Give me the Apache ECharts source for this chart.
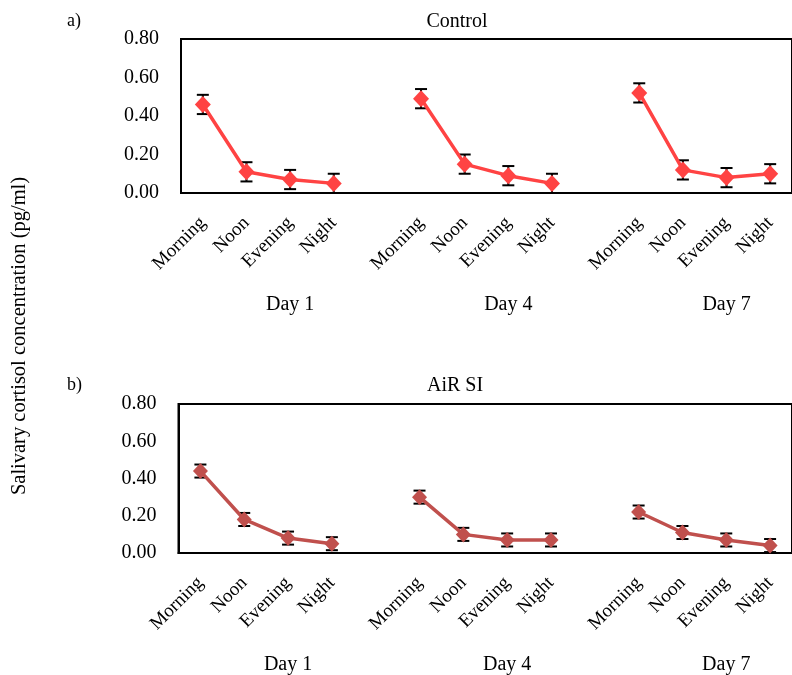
<!DOCTYPE html>
<html>
<head>
<meta charset="utf-8">
<script src="https://cdn.jsdelivr.net/npm/echarts@6/dist/echarts.min.js"></script>
<style>
html,body{margin:0;padding:0;background:#fff;}
#chart{width:792px;height:675px;}
</style>
</head>
<body>
<div id="chart"></div>
<script>
// Categories (blank slots separate the days)
var categories = ['Morning','Noon','Evening','Night','','Morning','Noon','Evening','Night','','Morning','Noon','Evening','Night'];
var dayLabels = ['','','Day 1','','','','','Day 4','','','','','Day 7',''];
var yTicks = [0, 0.2, 0.4, 0.6, 0.8];

// Control (panel a)
var controlMean = [0.46,0.11,0.07,0.05,null,0.49,0.15,0.09,0.05,null,0.52,0.12,0.08,0.10];
var controlErr  = [0.05,0.05,0.05,0.05,null,0.05,0.05,0.05,0.05,null,0.05,0.05,0.05,0.05];

// AiR SI (panel b)
var airMean = [0.44,0.18,0.08,0.05,null,0.30,0.10,0.07,0.07,null,0.22,0.11,0.07,0.04];
var airErr  = [0.035,0.035,0.035,0.035,null,0.035,0.035,0.035,0.035,null,0.035,0.035,0.035,0.035];

var FONT = "'Liberation Serif','Times New Roman',serif";

function errData(mean, err){
  var out = [];
  for (var i=0;i<mean.length;i++){
    if (mean[i] !== null) out.push([i, mean[i], err[i]]);
  }
  return out;
}

function errRender(params, api){
  var x = api.value(0), m = api.value(1), e = api.value(2);
  var hi = api.coord([x, m + e]);
  var lo = api.coord([x, m - e]);
  var cw = 6;
  var st = {stroke:'#000', lineWidth:2};
  return {type:'group', children:[
    {type:'line', shape:{x1:hi[0],y1:hi[1],x2:lo[0],y2:lo[1]}, style:st},
    {type:'line', shape:{x1:hi[0]-cw,y1:hi[1],x2:hi[0]+cw,y2:hi[1]}, style:st},
    {type:'line', shape:{x1:lo[0]-cw,y1:lo[1],x2:lo[0]+cw,y2:lo[1]}, style:st}
  ]};
}

function xAxes(gi){
  return [{
    type:'category', gridIndex:gi, data:categories, boundaryGap:true,
    axisLine:{show:true, lineStyle:{color:'#000', width:2}},
    axisTick:{show:false},
    axisLabel:{interval:0, rotate:45, color:'#000', fontFamily:FONT, fontSize:19, margin:27},
    splitLine:{show:false}
  },{
    type:'category', gridIndex:gi, data:dayLabels, boundaryGap:true, position:'bottom',
    axisLine:{show:false}, axisTick:{show:false},
    axisLabel:{interval:0, color:'#000', fontFamily:FONT, fontSize:20, margin:102},
    splitLine:{show:false}
  }];
}

function yAxis(gi){
  return {
    type:'value', gridIndex:gi, min:yTicks[0], max:yTicks[yTicks.length-1], interval:0.2,
    axisLine:{show:true, lineStyle:{color:'#000', width:2}},
    axisTick:{show:false},
    splitLine:{show:false},
    axisLabel:{color:'#000', fontFamily:FONT, fontSize:20, margin:22,
      formatter:function(v){return v.toFixed(2);}}
  };
}

var chart = echarts.init(document.getElementById('chart'), null, {renderer:'canvas'});
var option = {
  animation:false,
  backgroundColor:'#fff',
  grid:[
    {left:181, top:39, width:617, height:154, show:true, borderColor:'#000', borderWidth:2, backgroundColor:'transparent'},
    {left:178.5, top:404, width:620, height:149, show:true, borderColor:'#000', borderWidth:2, backgroundColor:'transparent'}
  ],
  xAxis: xAxes(0).concat(xAxes(1)),
  yAxis: [yAxis(0), yAxis(1)],
  series:[
    {type:'custom', xAxisIndex:0, yAxisIndex:0, renderItem:errRender, data:errData(controlMean, controlErr), z:1},
    {type:'line', xAxisIndex:0, yAxisIndex:0, data:controlMean, connectNulls:false,
      symbol:'diamond', symbolSize:[16,17], showSymbol:true,
      lineStyle:{color:'#FF4343', width:3.5}, itemStyle:{color:'#FF4343'}, z:3},
    {type:'custom', xAxisIndex:2, yAxisIndex:1, renderItem:errRender, data:errData(airMean, airErr), z:1},
    {type:'line', xAxisIndex:2, yAxisIndex:1, data:airMean, connectNulls:false,
      symbol:'diamond', symbolSize:[15,16], showSymbol:true,
      lineStyle:{color:'#C0504D', width:3.5}, itemStyle:{color:'#C0504D'}, z:3}
  ],
  graphic:[
    {type:'text', left:67, top:12, style:{text:'a)', font:'18px '+FONT, fill:'#000'}},
    {type:'text', left:67, top:376, style:{text:'b)', font:'18px '+FONT, fill:'#000'}},
    {type:'text', x:457, y:22, style:{text:'Control', font:'20px '+FONT, fill:'#000', textAlign:'center', textVerticalAlign:'middle'}},
    {type:'text', x:455, y:386, style:{text:'AiR SI', font:'20px '+FONT, fill:'#000', textAlign:'center', textVerticalAlign:'middle'}},
    {type:'text', x:20, y:336, rotation:Math.PI/2, style:{text:'Salivary cortisol concentration (pg/ml)', font:'20.5px '+FONT, fill:'#000', textAlign:'center', textVerticalAlign:'middle'}}
  ]
};
chart.setOption(option);
</script>
</body>
</html>
